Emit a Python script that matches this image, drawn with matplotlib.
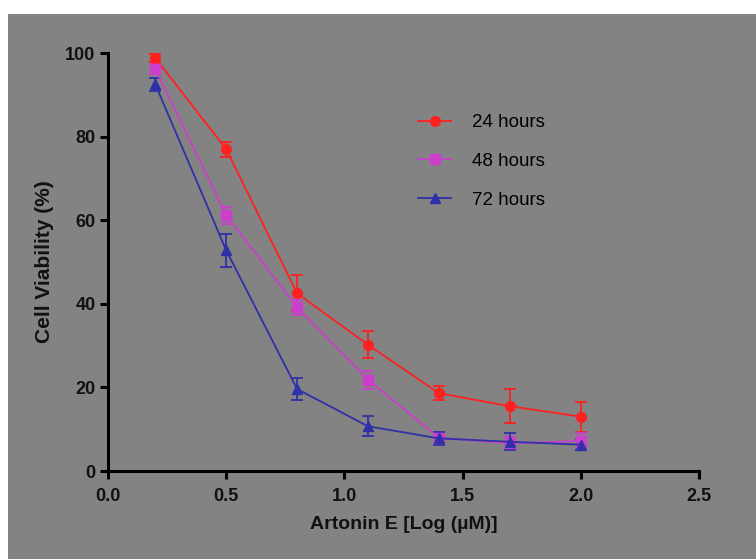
import matplotlib
matplotlib.use("Agg")
import matplotlib.pyplot as plt
from matplotlib.patches import Rectangle
from matplotlib.lines import Line2D

# Data
conc_log = [0.2, 0.5, 0.8, 1.1, 1.4, 1.7, 2.0]
h24 = [98.8, 77.0, 42.5, 30.2, 18.6, 15.5, 13.0]
h24_err = [1.0, 1.8, 4.3, 3.2, 1.7, 4.0, 3.6]
h48 = [96.2, 61.2, 39.2, 21.8, 8.0, 6.6, 7.2]
h48_err = [1.2, 2.0, 1.8, 2.2, 1.0, 1.5, 1.8]
h72 = [92.5, 52.8, 19.6, 10.7, 7.8, 7.0, 6.3]
h72_err = [1.5, 4.0, 2.6, 2.4, 1.5, 2.0, 1.2]
labels = ["24 hours", "48 hours", "72 hours"]
xticks = [0.0, 0.5, 1.0, 1.5, 2.0, 2.5]
yticks = [0, 20, 40, 60, 80, 100]

plt.rcParams['font.family'] = ['Liberation Sans', 'DejaVu Sans']

W, H = 756, 559
fig = plt.figure(figsize=(W / 100, H / 100), dpi=100, facecolor='white')
bg = '#838383'
fig.patches.append(Rectangle((8 / W, 0), 1 - 8 / W, 1 - 14 / H,
                             transform=fig.transFigure, facecolor=bg,
                             edgecolor='none', zorder=-10))

ax = fig.add_axes([108 / W, 1 - 471 / H, (699 - 108) / W, (471 - 53) / H])
ax.set_facecolor('none')
ax.set_zorder(5)

series = [
    (h24, h24_err, '#ff2020', 'o', 7),
    (h48, h48_err, '#cc3fcc', 's', 6.5),
    (h72, h72_err, '#3030a8', '^', 7),
]
handles = []
for (vals, errs, col, mk, ms), lab in zip(series, labels):
    ax.errorbar(conc_log, vals, yerr=errs, color=col, marker=mk,
                markersize=ms, linewidth=1.3, elinewidth=1.3, capsize=4,
                capthick=1.3, clip_on=False)
    handles.append(Line2D([], [], color=col, marker=mk, markersize=ms,
                          linewidth=1.3, label=lab))

ax.set_xlim(0, 2.5)
ax.set_ylim(0, 100)
ax.set_xticks(xticks)
ax.set_xticklabels([f"{t:.1f}" for t in xticks])
ax.set_yticks(yticks)
for s in ['top', 'right']:
    ax.spines[s].set_visible(False)
for s in ['left', 'bottom']:
    ax.spines[s].set_linewidth(2.2)
    ax.spines[s].set_color('black')
ax.tick_params(axis='both', width=2.2, length=6, labelsize=13)
ax.tick_params(axis='x', pad=6)
ax.tick_params(axis='y', pad=3)
for lbl in ax.get_xticklabels() + ax.get_yticklabels():
    lbl.set_fontweight('bold')
    lbl.set_color('#111111')

ax.set_xlabel("Artonin E [Log (\u00b5M)]", fontsize=14, fontweight='bold',
              color='#111111', labelpad=8)
ax.set_ylabel("Cell Viability (%)", fontsize=15, fontweight='bold',
              color='#111111', labelpad=8)

leg = ax.legend(handles=handles, loc='upper left',
                bbox_to_anchor=(0.509, 0.876), frameon=False,
                fontsize=13.5, handlelength=1.75, labelspacing=1.15,
                handletextpad=1.1, borderpad=0)

fig.savefig("out.png", dpi=100, facecolor='white')
